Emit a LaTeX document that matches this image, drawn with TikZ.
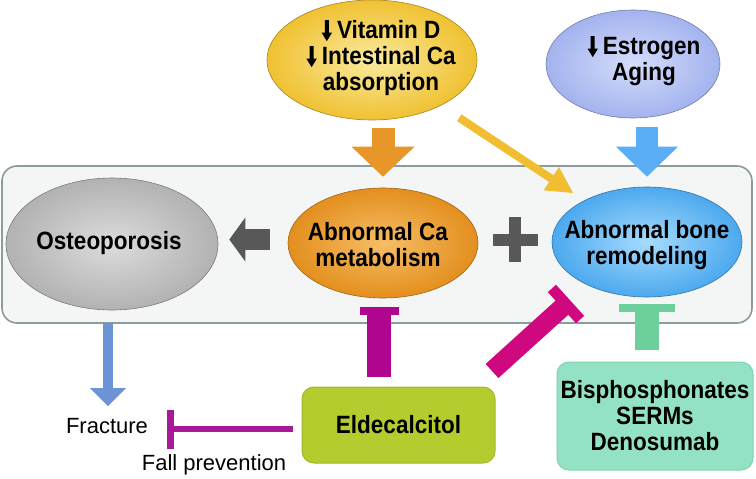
\documentclass[tikz,border=0pt]{standalone}
\usepackage{fontspec}
\setmainfont{Liberation Sans}
\newfontfamily\lblfont[FakeStretch=0.9]{Liberation Sans}
\usetikzlibrary{arrows.meta,calc,shapes.geometric}
\definecolor{panelfill}{HTML}{F4F5F5}
\definecolor{paneldraw}{HTML}{8C9C9C}
\definecolor{osIn}{HTML}{DCDCDC}
\definecolor{osOut}{HTML}{B2B2B2}
\definecolor{caIn}{HTML}{F6BE66}
\definecolor{caOut}{HTML}{E38F1E}
\definecolor{boIn}{HTML}{A6DBFD}
\definecolor{boOut}{HTML}{4CA9EE}
\definecolor{vdIn}{HTML}{FAEB9E}
\definecolor{vdOut}{HTML}{F0C132}
\definecolor{esIn}{HTML}{D4DDFB}
\definecolor{esOut}{HTML}{A3B3EE}
\definecolor{grayArr}{HTML}{585858}
\definecolor{orangeArr}{HTML}{E8962A}
\definecolor{blueArr}{HTML}{5AAEF6}
\definecolor{yellowArr}{HTML}{F0BE30}
\definecolor{fracArr}{HTML}{6B93D6}
\definecolor{magA}{HTML}{B0058F}
\definecolor{magB}{HTML}{D0087F}
\definecolor{magC}{HTML}{A8199A}
\definecolor{greenT}{HTML}{6CCF9C}
\definecolor{eldFill}{HTML}{B6CC2E}
\definecolor{eldDraw}{HTML}{A2B828}
\definecolor{bisFill}{HTML}{94E2C4}
\definecolor{bisDraw}{HTML}{80D2B2}
\newcommand\dnarr{\tikz[baseline=0pt,x=1pt,y=1pt]{\fill[black] (-2,18.5)--(2,18.5)--(2,6)--(5.2,6)--(0,-2.5)--(-5.2,6)--(-2,6)--cycle;}\hspace{5pt}}
\begin{document}
\begin{tikzpicture}[x=1pt,y=-1pt,
  lbl/.style={font=\lblfont\fontsize{25}{26}\selectfont\bfseries, align=center, inner sep=0pt},
  plainlbl/.style={font=\fontsize{22}{26}\selectfont, inner sep=0pt},
  ell/.style={ellipse, inner sep=0pt, draw=#1!70!black, line width=0.6pt},
  panel/.style={rectangle, rounded corners=15pt, fill=panelfill, draw=paneldraw, line width=1.6pt},
  tipbig/.style args={#1x#2}{-{Triangle[length=#1pt,width=#2pt,line width=0pt]}}
]
\useasboundingbox (0,0) rectangle (756,479);
% container
\node[panel, minimum width=750pt, minimum height=157pt] (panel) at (377,244.5) {};
% top ellipses
\node[ell=vdOut, inner color=vdIn, outer color=vdOut, minimum width=210pt, minimum height=120pt] (vitd) at (372,60) {};
\node[lbl] (vitdt) at (381,58) {\dnarr Vitamin D\\\dnarr Intestinal Ca\\absorption};
\node[ell=esOut, inner color=esIn, outer color=esOut, minimum width=174pt, minimum height=108pt] (estr) at (633,64) {};
\node[lbl] (estrt) at (644,61) {\dnarr Estrogen\\Aging};
% middle ellipses
\node[ell=osOut, inner color=osIn, outer color=osOut, minimum width=212pt, minimum height=132pt] (osteo) at (112,244) {};
\node[lbl] (osteot) at (109,243) {Osteoporosis};
\node[ell=caOut, inner color=caIn, outer color=caOut, minimum width=190pt, minimum height=110pt] (ca) at (383,243) {};
\node[lbl] (cat) at (378,245) {Abnormal Ca\\metabolism};
\node[ell=boOut, inner color=boIn, outer color=boOut, minimum width=190pt, minimum height=110pt] (bone) at (647,242) {};
\node[lbl] (bonet) at (647,245) {Abnormal bone\\remodeling};
% bottom boxes
\node[lbl, rectangle, rounded corners=12pt, fill=eldFill, draw=eldDraw, line width=1pt, minimum width=193pt, minimum height=76pt] (eld) at (398.5,425) {Eldecalcitol};
\node[lbl, rectangle, rounded corners=12pt, fill=bisFill, draw=bisDraw, line width=1pt, minimum width=196pt, minimum height=108pt] (bis) at (655,416) {Bisphosphonates\\SERMs\\Denosumab};
\node[plainlbl] (fract) at (107,426) {Fracture};
\node[plainlbl] (fall) at (214,465) {Fall prevention};
% block arrows
\draw[orangeArr, line width=23pt, tipbig=30x63, shorten <=8pt, shorten >=11pt] (vitd.south -| ca.north) -- (ca.north);
\draw[blueArr, line width=22pt, tipbig=30x62, shorten <=9pt, shorten >=10pt] (estr.south -| bone.north) -- (bone.north);
\draw[grayArr, line width=21pt, tipbig=16x44, shorten <=18pt, shorten >=11pt] ([yshift=3.5pt]ca.west) -- ([yshift=3.5pt]ca.west -| osteo.east);
\coordinate (yEnd) at (573,193);
\draw[yellowArr, line width=8pt, tipbig=26x28, shorten <=22pt] (vitd) -- (yEnd);
\draw[fracArr, line width=10pt, tipbig=18x36, shorten <=13pt, shorten >=12pt] ([xshift=-4pt]osteo.south) -- ([xshift=-4pt]osteo.south |- fract.north);
% plus sign
\fill[grayArr] (492.5,233.5) rectangle (537.5,245.5);
\fill[grayArr] (509,217) rectangle (521,262);
% inhibition T: vertical magenta
\coordinate (mvA) at ([xshift=-4pt,yshift=10pt]ca.south |- eld.north);
\coordinate (mvB) at ([xshift=-4pt,yshift=-13pt]ca.south);
\draw[magA, line width=24pt] (mvA) -- (mvB);
\draw[magA, line width=8pt] ($(mvB)!19.5pt!90:(mvA)$) -- ($(mvB)!19.5pt!-90:(mvA)$);
% diagonal magenta
\coordinate (mdA) at (492,371);
\coordinate (mdB) at (566,304);
\draw[magB, line width=19pt] (mdA) -- (mdB);
\draw[magB, line width=11pt] ($(mdB)!21pt!90:(mdA)$) -- ($(mdB)!21pt!-90:(mdA)$);
% green T
\coordinate (gA) at ([yshift=12pt]bone.south |- bis.north);
\coordinate (gB) at ([yshift=-11pt]bone.south);
\draw[greenT, line width=24pt] (gA) -- (gB);
\draw[greenT, line width=8pt] ($(gB)!28pt!90:(gA)$) -- ($(gB)!28pt!-90:(gA)$);
% thin magenta T
\coordinate (mhA) at ([xshift=-9pt,yshift=-4pt]eld.west);
\coordinate (mhB) at (170.5,429);
\draw[magC, line width=6pt] (mhA) -- (mhB);
\draw[magC, line width=7pt] ($(mhB)!19.5pt!90:(mhA)$) -- ($(mhB)!19.5pt!-90:(mhA)$);
\end{tikzpicture}
\end{document}
